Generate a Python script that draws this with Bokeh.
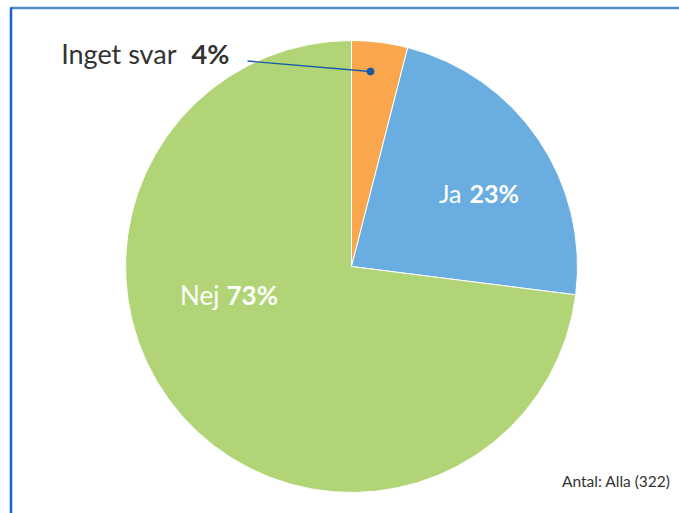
import math
from bokeh.plotting import figure
from bokeh.models import Range1d, ColumnDataSource
from bokeh.core.properties import value
from bokeh.embed import file_html
from bokeh.resources import INLINE

# ---- data ----
categories = ["Inget svar", "Ja", "Nej"]
percents = [4, 23, 73]
pct_labels = ["4%", "23%", "73%"]
colors = ["#F9A64C", "#6AADE0", "#B1D477"]
note = "Antal: Alla (322)"

# ---- layout ----
W, H = 679, 513
cx, cy, R = 351, H - 266, 226
DY = 11  # baseline correction

total = sum(percents)
starts, ends = [], []
cum = 0.0
for v in percents:
    starts.append(math.pi / 2 - 2 * math.pi * cum / total)
    cum += v
    ends.append(math.pi / 2 - 2 * math.pi * cum / total)

p = figure(width=W, height=H, output_backend="svg", toolbar_location=None,
           x_range=Range1d(0, W), y_range=Range1d(0, H), min_border=0)
p.axis.visible = False
p.grid.visible = False
p.outline_line_color = None
p.background_fill_color = "white"
p.border_fill_color = "white"

src = ColumnDataSource(dict(start=starts, end=ends, color=colors))
p.wedge(x=cx, y=cy, radius=R, start_angle="start", end_angle="end",
        direction="clock", fill_color="color", line_color="white",
        line_width=1, source=src)

# frame lines (top and left)
p.segment(x0=[10], y0=[H - 7.5], x1=[W], y1=[H - 7.5], line_color="#4C8BC3", line_width=2.5)
p.segment(x0=[10.5], y0=[H - 7], x1=[10.5], y1=[0], line_color="#1464C8", line_width=2.5)

font = value("Lato")

# Inget svar callout
p.segment(x0=[247], y0=[H - 60.5], x1=[370], y1=[H - 71], line_color="#1A5AA5", line_width=1.3)
p.scatter(x=[370], y=[H - 71], size=7, fill_color="#1A5AA5", line_color="#1A5AA5")
p.text(x=[176], y=[H - 64 + DY], text=[categories[0]], text_font=font, text_font_size="27px",
       text_color="#333333", text_align="right", text_baseline="alphabetic")
p.text(x=[191], y=[H - 64 + DY], text=[pct_labels[0]], text_font=font, text_font_size="27px",
       text_color="#333333", text_font_style="bold", text_align="left", text_baseline="alphabetic")

# Ja label
p.text(x=[461], y=[H - 203 + DY], text=[categories[1]], text_font=font, text_font_size="25px",
       text_color="white", text_align="right", text_baseline="alphabetic")
p.text(x=[469], y=[H - 203 + DY], text=[pct_labels[1]], text_font=font, text_font_size="25px",
       text_color="white", text_font_style="bold", text_align="left", text_baseline="alphabetic")

# Nej label
p.text(x=[219], y=[H - 305 + DY], text=[categories[2]], text_font=font, text_font_size="26px",
       text_color="white", text_align="right", text_baseline="alphabetic")
p.text(x=[226], y=[H - 305 + DY], text=[pct_labels[2]], text_font=font, text_font_size="26px",
       text_color="white", text_font_style="bold", text_align="left", text_baseline="alphabetic")

# note
p.text(x=[670], y=[H - 490 + DY - 1], text=[note], text_font=font, text_font_size="15.5px",
       text_color="#333333", text_align="right", text_baseline="alphabetic")

open("out.html", "w").write(file_html(p, INLINE))
